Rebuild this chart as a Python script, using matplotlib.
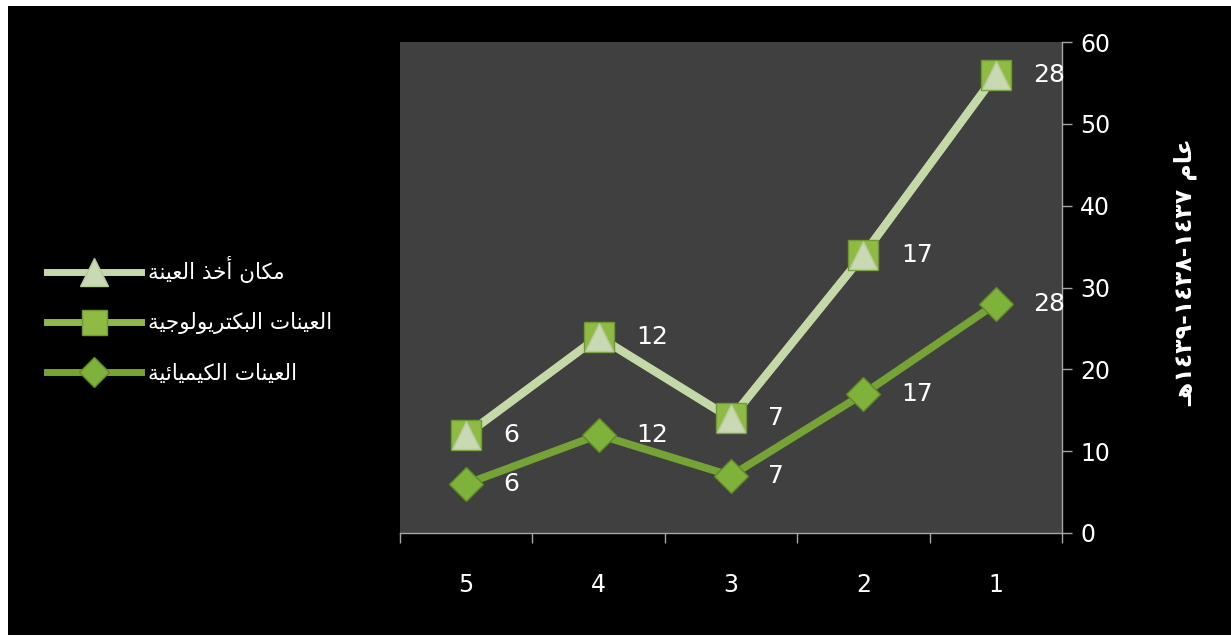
import matplotlib
matplotlib.use("Agg")
import matplotlib.pyplot as plt
from matplotlib.lines import Line2D
from matplotlib.patches import Rectangle


categories = ["5", "4", "3", "2", "1"]
chemical = [6, 12, 7, 17, 28]
bacterio = [6, 12, 7, 17, 28]
place = [0, 0, 0, 0, 0]

legend_labels = ["مكان أخذ العينة", "العينات البكتريولوجية", "العينات الكيميائية"]
ylabel_word = "عام"
ylabel_years = ["١٤٣٧", "١٤٣٨", "١٤٣٩"]
ylabel_suffix = "هـ"

# presentation forms: isolated, final, initial, medial (None = no left join)
FORMS = {
    "ا": ("\uFE8D", "\uFE8E", None, None),
    "أ": ("\uFE83", "\uFE84", None, None),
    "ب": ("\uFE8F", "\uFE90", "\uFE91", "\uFE92"),
    "ة": ("\uFE93", "\uFE94", None, None),
    "ت": ("\uFE95", "\uFE96", "\uFE97", "\uFE98"),
    "ج": ("\uFE9D", "\uFE9E", "\uFE9F", "\uFEA0"),
    "خ": ("\uFEA5", "\uFEA6", "\uFEA7", "\uFEA8"),
    "ذ": ("\uFEAB", "\uFEAC", None, None),
    "ر": ("\uFEAD", "\uFEAE", None, None),
    "ع": ("\uFEC9", "\uFECA", "\uFECB", "\uFECC"),
    "ك": ("\uFED9", "\uFEDA", "\uFEDB", "\uFEDC"),
    "ل": ("\uFEDD", "\uFEDE", "\uFEDF", "\uFEE0"),
    "م": ("\uFEE1", "\uFEE2", "\uFEE3", "\uFEE4"),
    "ن": ("\uFEE5", "\uFEE6", "\uFEE7", "\uFEE8"),
    "ه": ("\uFEE9", "\uFEEA", "\uFEEB", "\uFEEC"),
    "و": ("\uFEED", "\uFEEE", None, None),
    "ي": ("\uFEF1", "\uFEF2", "\uFEF3", "\uFEF4"),
    "ئ": ("\uFE89", "\uFE8A", "\uFE8B", "\uFE8C"),
    "ـ": ("ـ", "ـ", "ـ", "ـ"),
}


def shape(text):
    # join letters and return them in visual (left to right) order
    out = []
    for i, ch in enumerate(text):
        if ch not in FORMS:
            out.append(ch)
            continue
        forms = FORMS[ch]
        prev = text[i - 1] if i > 0 else ""
        nxt = text[i + 1] if i + 1 < len(text) else ""
        join_prev = prev in FORMS and FORMS[prev][2] is not None
        join_next = forms[2] is not None and nxt in FORMS
        if join_prev and join_next:
            out.append(forms[3])
        elif join_prev:
            out.append(forms[1])
        elif join_next:
            out.append(forms[2])
        else:
            out.append(forms[0])
    return "".join(out)[::-1]


BG = "#000000"
PLOT_BG = "#404040"
AXIS_COL = "#a6a6a6"
CHEM_COL = "#76a336"
CHEM_MARK = "#7fb23a"
BACT_COL = "#8cb84f"
BACT_MARK = "#8fbb45"
PLACE_COL = "#c4d8a8"
PLACE_MARK = "#c9d9b3"

plt.rcParams["font.family"] = ["DejaVu Sans"]

fig = plt.figure(figsize=(12.31, 6.37), dpi=100, facecolor="white")
fig.patches.append(Rectangle((8 / 1231, 2 / 637), 1, 1 - 8 / 637, transform=fig.transFigure,
                             facecolor=BG, edgecolor="none", zorder=-10))

ax = fig.add_axes([400 / 1231, 1 - 533 / 637, 662 / 1231, 491 / 637])
ax.set_facecolor(PLOT_BG)

x = list(range(len(categories)))
bact_top = [c + b for c, b in zip(chemical, bacterio)]
place_top = [t + p for t, p in zip(bact_top, place)]

ax.plot(x, chemical, color=CHEM_COL, lw=5.5, marker="D", ms=17, mfc=CHEM_MARK,
        mec="#5f8a25", mew=1, zorder=3)
ax.plot(x, bact_top, color=BACT_COL, lw=5.5, zorder=3)
ax.plot(x, place_top, color=PLACE_COL, lw=6, zorder=4)
ax.plot(x, bact_top, ls="none", marker="s", ms=22, mfc=BACT_MARK, mec="#6f9a30",
        mew=1, zorder=5)
ax.plot(x, place_top, ls="none", marker="^", ms=20, mfc=PLACE_MARK, mec="#b5c99a",
        mew=1, zorder=6)

for xi, v, y in zip(x, chemical, chemical):
    ax.annotate(str(v), (xi, y), xytext=(27, 0), textcoords="offset points",
                ha="left", va="center", color="white", fontsize=18, zorder=7)
for xi, v, y in zip(x, bacterio, bact_top):
    ax.annotate(str(v), (xi, y), xytext=(27, 0), textcoords="offset points",
                ha="left", va="center", color="white", fontsize=18, zorder=7)

ax.set_xlim(-0.5, len(categories) - 0.5)
ax.set_ylim(0, 60)
ax.set_yticks(range(0, 61, 10))
ax.yaxis.tick_right()

ax.set_xticks(x)
ax.set_xticklabels(categories)
ax.set_xticks([i - 0.5 for i in range(len(categories) + 1)], minor=True)
ax.tick_params(axis="x", which="major", length=0, pad=29, labelcolor="white", labelsize=17)
ax.tick_params(axis="x", which="minor", length=7, color=AXIS_COL, width=1)
ax.tick_params(axis="y", which="major", length=7, color=AXIS_COL, width=1, pad=6,
               labelcolor="white", labelsize=17)

for s in ["top", "left"]:
    ax.spines[s].set_visible(False)
for s in ["bottom", "right"]:
    ax.spines[s].set_color(AXIS_COL)
    ax.spines[s].set_linewidth(1)

ylabel = (shape(ylabel_suffix) + "-".join(reversed(ylabel_years)) + " " + shape(ylabel_word))
fig.text(1185 / 1231, 1 - 272 / 637, ylabel, rotation=90, ha="center", va="center",
         color="white", fontsize=17, fontweight="bold")

handles = [
    Line2D([], [], color=PLACE_COL, lw=5, marker="^", ms=20, mfc=PLACE_MARK, mec="#b5c99a"),
    Line2D([], [], color=BACT_COL, lw=5, marker="s", ms=18, mfc=BACT_MARK, mec="#6f9a30"),
    Line2D([], [], color=CHEM_COL, lw=5, marker="D", ms=15, mfc=CHEM_MARK, mec="#5f8a25"),
]
fig.legend(handles, [shape(t) for t in legend_labels], loc="center left",
           bbox_to_anchor=(38 / 1231, 1 - 320 / 637), frameon=False, fontsize=15.5,
           labelcolor="white", handlelength=4.4, handletextpad=0.3, labelspacing=1.35,
           borderaxespad=0)

fig.savefig("out.png", dpi=100, facecolor=fig.get_facecolor())
